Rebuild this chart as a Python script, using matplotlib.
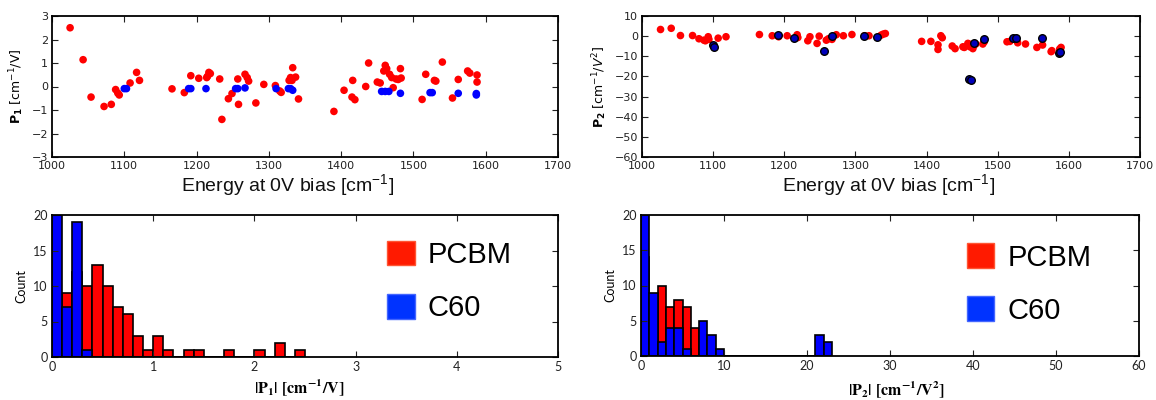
import numpy as np
import matplotlib.pyplot as plt
from matplotlib.patches import Patch

# ---- top left: P1 vs energy ----
p1_pcbm_e = [1025, 1043, 1054, 1072, 1082, 1088, 1091, 1093, 1108, 1117, 1121,
             1166, 1183, 1192, 1203, 1214, 1215, 1217, 1219, 1232, 1235, 1244,
             1249, 1257, 1258, 1267, 1270, 1272, 1282, 1293, 1309, 1315, 1317,
             1328, 1330, 1332, 1333, 1337, 1341, 1390, 1404, 1415, 1416, 1419,
             1434, 1438, 1450, 1454, 1459, 1461, 1463, 1467, 1470, 1472, 1476,
             1479, 1482, 1483, 1512, 1517, 1529, 1531, 1540, 1554, 1562, 1575,
             1578, 1588, 1588]
p1_pcbm_v = [2.5, 1.14, -0.45, -0.85, -0.76, -0.13, -0.28, -0.36, 0.15, 0.6, 0.26,
             -0.1, -0.26, 0.46, 0.35, 0.38, 0.43, 0.6, 0.55, 0.32, -1.4, -0.52,
             -0.3, 0.32, -0.76, 0.52, 0.38, 0.23, -0.7, 0.09, 0.04, -0.19, -0.25,
             0.26, 0.38, 0.26, 0.8, 0.4, -0.53, -1.06, -0.16, -0.45, 0.26, -0.56,
             0.0, 1.0, 0.19, 0.15, 0.66, 0.9, 0.76, 0.52, 0.38, -0.05, 0.32,
             0.3, 0.76, 0.36, -0.55, 0.52, 0.26, 0.23, 1.04, -0.49, 0.3, 0.66,
             0.57, 0.49, 0.19]
p1_c60_e = [1100, 1103, 1189, 1192, 1213, 1254, 1257, 1267, 1310, 1327, 1330,
            1333, 1456, 1461, 1466, 1482, 1523, 1526, 1562, 1587, 1587]
p1_c60_v = [-0.09, -0.09, -0.09, -0.09, -0.09, -0.09, -0.09, -0.06, -0.09, -0.09, -0.09,
            -0.16, -0.21, -0.21, -0.21, -0.29, -0.26, -0.26, -0.29, -0.3, -0.36]

# ---- top right: P2 vs energy ----
p2_pcbm_e = [1026, 1041, 1054, 1071, 1080, 1087, 1089, 1093, 1094, 1107, 1118,
             1165, 1183, 1192, 1204, 1218, 1219, 1233, 1236, 1246, 1249, 1259,
             1262, 1267, 1273, 1283, 1295, 1313, 1319, 1336, 1339, 1342, 1393,
             1406, 1416, 1416, 1420, 1422, 1436, 1440, 1451, 1453, 1458, 1459,
             1461, 1465, 1466, 1469, 1479, 1481, 1513, 1517, 1528, 1539, 1555,
             1563, 1575, 1576, 1587, 1589]
p2_pcbm_v = [3.3, 3.9, 0.3, 0.3, -1.3, -2.0, -2.3, -0.3, -1.6, -1.0, -0.3,
             0.8, 0.2, -0.3, 0.2, 0.7, -0.7, -2.3, -0.3, -3.6, 0.0, -2.0,
             -1.3, -1.6, 0.7, 0.2, 0.8, 0.2, 0.2, 0.5, 1.0, 1.3, -2.6,
             -2.6, -4.3, -6.6, 0.2, -0.8, -4.9, -6.2, -5.3, -5.6, -3.6, -3.9,
             -5.3, -6.2, -4.9, -3.9, -3.9, -2.8, -2.8, -2.6, -3.3, -3.9, -5.6,
             -4.4, -7.7, -7.2, -6.4, -5.6]
p2_c60_e = [1100, 1101, 1191, 1213, 1256, 1267, 1312, 1330, 1460, 1463, 1466,
            1481, 1522, 1526, 1562, 1586, 1587]
p2_c60_v = [-4.4, -5.3, 0.5, -1.0, -7.2, 0.2, 0.2, -0.2, -21.2, -22.0, -3.2,
            -1.6, -0.7, -1.1, -0.8, -8.6, -7.7]

# ---- histograms ----
p1_bin_left = np.round(np.arange(0, 2.5, 0.1), 2)
p1_hist_pcbm = [6, 9, 12, 10, 13, 10, 7, 6, 3, 1, 3, 1, 0, 1, 1, 0, 0, 1, 0, 0, 1, 0, 2, 0, 1]
p1_hist_c60 = [20, 7, 19, 1, 0, 0, 0, 0, 0, 0, 0, 0, 0, 0, 0, 0, 0, 0, 0, 0, 0, 0, 0, 0, 0]

p2_bin_left = np.arange(0, 23, 1)
p2_hist_pcbm = [14, 8, 10, 7, 8, 7, 4, 0, 0, 0, 0, 0, 0, 0, 0, 0, 0, 0, 0, 0, 0, 0, 0]
p2_hist_c60 = [20, 9, 2, 4, 4, 1, 0, 5, 3, 1, 0, 0, 0, 0, 0, 0, 0, 0, 0, 0, 0, 3, 2]

RED = '#ff0000'
BLUE = '#0000ff'

fig = plt.figure(figsize=(11.56, 4.0), dpi=100)
ax1 = fig.add_axes([0.045, 0.6075, 0.4377, 0.3525])
ax2 = fig.add_axes([0.5554, 0.6075, 0.4308, 0.3525])
ax3 = fig.add_axes([0.045, 0.1075, 0.4377, 0.355])
ax4 = fig.add_axes([0.5545, 0.11, 0.4308, 0.3525])


def style_axes(ax, family='DejaVu Sans', size=8):
    ax.tick_params(direction='in', length=4, width=0.8, top=True, right=True,
                   labelsize=size, colors='#222222', pad=3)
    for lab in ax.get_xticklabels() + ax.get_yticklabels():
        lab.set_family(family)
    for sp in ax.spines.values():
        sp.set_linewidth(1.3)


# top left
ax1.scatter(p1_pcbm_e, p1_pcbm_v, s=30, color=RED, edgecolors='none', zorder=2)
ax1.scatter(p1_c60_e, p1_c60_v, s=30, color=BLUE, edgecolors='none', zorder=3)
ax1.set_xlim(1000, 1700)
ax1.set_ylim(-3, 3)
ax1.set_yticks(range(-3, 4))
ax1.set_ylabel(r'$\mathbf{P_1}$ [cm$^{-1}$/V]', fontsize=9)
style_axes(ax1)

# top right
ax2.scatter(p2_pcbm_e, p2_pcbm_v, s=30, color=RED, edgecolors='none', zorder=2)
ax2.scatter(p2_c60_e, p2_c60_v, s=30, color='#0000bb', edgecolors='k', linewidths=1.0, zorder=3)
ax2.set_xlim(1000, 1700)
ax2.set_ylim(-60, 10)
ax2.set_yticks(range(-60, 11, 10))
ax2.set_ylabel(r'$\mathbf{P_2}$ [cm$^{-1}$/$V^2$]', fontsize=9)
style_axes(ax2)

for ax, xf in ((ax1, 0.466), (ax2, 0.494)):
    ax.text(xf, -0.205, 'Energy at 0V bias [cm$^{\\mathregular{-1}}$]', transform=ax.transAxes,
            ha='center', va='center', fontsize=14, family='Liberation Sans', color='#111111')

# bottom left
ax3.bar(p1_bin_left, p1_hist_pcbm, width=0.1, align='edge', color=RED, edgecolor='k', linewidth=1.2)
ax3.bar(p1_bin_left, p1_hist_c60, width=0.1, align='edge', color=BLUE, edgecolor='k', linewidth=1.2)
ax3.set_xlim(0, 5)
ax3.set_ylim(0, 20)
ax3.set_yticks(range(0, 21, 5))
ax3.set_ylabel('Count', fontsize=9, family='Lato')
style_axes(ax3, family='Lato', size=9)
ax3.text(0.488, -0.218, r'$\mathbf{|P_1|\ [cm^{-1}/V]}$', transform=ax3.transAxes,
         ha='center', va='center', fontsize=11.5, math_fontfamily='stix')

# bottom right
ax4.bar(p2_bin_left, p2_hist_pcbm, width=1, align='edge', color=RED, edgecolor='k', linewidth=1.2)
ax4.bar(p2_bin_left, p2_hist_c60, width=1, align='edge', color=BLUE, edgecolor='k', linewidth=1.2)
ax4.set_xlim(0, 60)
ax4.set_ylim(0, 20)
ax4.set_yticks(range(0, 21, 5))
ax4.set_ylabel('Count', fontsize=9, family='Lato')
style_axes(ax4, family='Lato', size=9)
ax4.text(0.514, -0.24, r'$\mathbf{|P_2|\ [cm^{-1}/V^2]}$', transform=ax4.transAxes,
         ha='center', va='center', fontsize=11.5, math_fontfamily='stix')

handles = [Patch(facecolor='#ff1a00', edgecolor='#ff5533', label='PCBM'),
           Patch(facecolor='#0033ff', edgecolor='#4466ff', label='C60')]
for ax, anchor in ((ax3, (0.663, 0.82)), (ax4, (0.655, 0.80))):
    ax.legend(handles=handles, loc='upper left', bbox_to_anchor=anchor, frameon=False,
              prop={'family': 'Liberation Sans', 'size': 21},
              handlelength=0.93, handleheight=0.93, handletextpad=0.45,
              labelspacing=0.85, borderaxespad=0, borderpad=0)

fig.savefig('out.png', dpi=100)
